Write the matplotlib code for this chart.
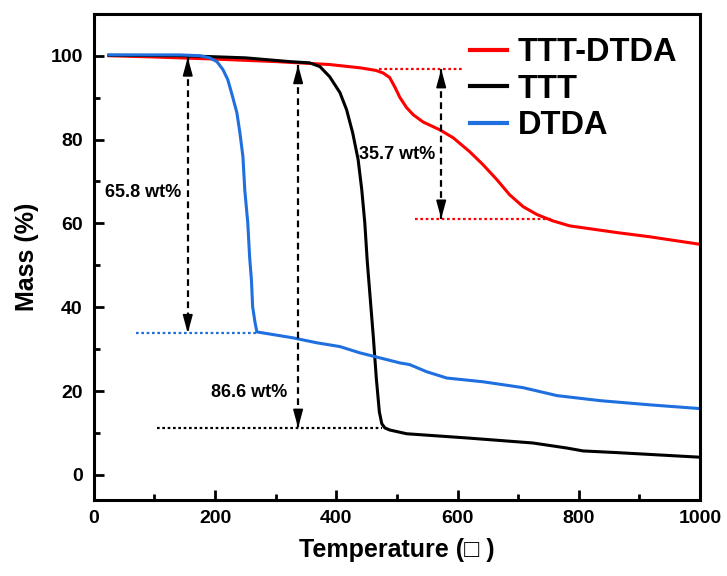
"""
TGA curves of TTT, DTDA and the TTT-DTDA composite, with mass-loss markers.
"""
import matplotlib.pyplot as plt

plt.rcParams["font.family"] = ["Liberation Sans", "DejaVu Sans"]
plt.rcParams["font.weight"] = "bold"
plt.rcParams["axes.labelweight"] = "bold"

# TTT-DTDA
temp_ttt_dtda = [25, 100, 200, 300, 389, 440, 465, 477, 488, 497, 505, 516, 527, 543,
                 571, 593, 620, 642, 665, 686, 708, 731, 757, 785, 863, 917, 1000]
mass_ttt_dtda = [100, 99.7, 99.2, 98.6, 97.9, 97.1, 96.5, 95.9, 94.8, 92.4, 90.0, 87.6, 85.9, 84.2,
                 82.3, 80.4, 77.1, 74.0, 70.4, 66.8, 64.0, 62.1, 60.6, 59.4, 57.8, 56.8, 55.0]

# TTT
temp_ttt = [25, 150, 250, 323, 356, 373, 389, 406, 417, 427, 436, 442, 447, 451,
            456, 461, 466, 471, 475, 480, 488, 516, 615, 724, 780, 807, 863, 1000]
mass_ttt = [100.1, 100, 99.5, 98.6, 98.3, 97.4, 95.0, 91.2, 87.1, 81.6, 75.2, 68.0, 60.1, 51.0,
            42.0, 33.0, 23.0, 15.0, 12.2, 11.2, 10.7, 9.8, 8.8, 7.6, 6.4, 5.7, 5.3, 4.2]

# DTDA
temp_dtda = [25, 142, 175, 191, 203, 213, 221, 229, 236, 241, 246, 249, 254, 257, 260,
             262, 266, 269, 328, 368, 406, 439, 505, 521, 549, 582, 642, 708, 764, 835,
             917, 1000]
mass_dtda = [100.2, 100.2, 100.0, 99.5, 98.6, 96.7, 94.3, 90.2, 86.4, 81.6, 75.9, 68.0, 60.1, 52.0, 46.5,
             40.1, 36.3, 34.1, 32.7, 31.5, 30.6, 29.1, 26.7, 26.3, 24.6, 23.1, 22.2, 20.8, 18.9, 17.7,
             16.7, 15.8]

# mass-loss markers: (temperature, upper mass, lower mass)
loss_dtda = (155, 99.6, 33.8)
loss_ttt = (337, 97.8, 11.2)
loss_ttt_dtda = (573, 96.8, 61.1)

RED = "#ff0000"
BLUE = "#1f6fde"

fig = plt.figure(figsize=(7.27, 5.76), dpi=100)
ax = fig.add_axes([0.129, 0.132, 0.834, 0.844])

ax.plot(temp_ttt_dtda, mass_ttt_dtda, color=RED, lw=2.2, label="TTT-DTDA")
ax.plot(temp_ttt, mass_ttt, color="black", lw=2.2, label="TTT")
ax.plot(temp_dtda, mass_dtda, color=BLUE, lw=2.2, label="DTDA")

dots = (0, (1.2, 1.2))
ax.plot([70, 270], [loss_dtda[2]] * 2, color=BLUE, lw=1.6, ls=dots)
ax.plot([104, 476], [loss_ttt[2]] * 2, color="black", lw=1.6, ls=dots)
ax.plot([470, 608], [loss_ttt_dtda[1]] * 2, color=RED, lw=1.6, ls=dots)
ax.plot([530, 757], [loss_ttt_dtda[2]] * 2, color=RED, lw=1.6, ls=dots)


def mass_loss(x, top, bottom):
    ax.plot([x, x], [top, bottom], color="black", lw=1.6, ls=(0, (3, 2)))
    head = dict(arrowstyle="-|>,head_length=1.1,head_width=0.3", color="black",
                lw=1.2, shrinkA=0, shrinkB=0)
    ax.annotate("", xy=(x, top), xytext=(x, top - 3.5), arrowprops=head)
    ax.annotate("", xy=(x, bottom), xytext=(x, bottom + 3.5), arrowprops=head)


mass_loss(*loss_dtda)
mass_loss(*loss_ttt)
mass_loss(*loss_ttt_dtda)

ax.text(145, 67.3, "65.8 wt%", fontsize=13, ha="right", va="center")
ax.text(257, 19.6, "86.6 wt%", fontsize=13, ha="center", va="center")
ax.text(500, 76.4, "35.7 wt%", fontsize=13, ha="center", va="center")

ax.set_xlim(0, 1000)
ax.set_ylim(-6, 110)
ax.set_xticks(range(0, 1001, 200))
ax.set_xticks(range(100, 1000, 200), minor=True)
ax.set_yticks(range(0, 101, 20))
ax.set_yticks(range(10, 100, 20), minor=True)
ax.tick_params(which="both", direction="in", width=2, labelsize=14,
               top=False, right=False)
ax.tick_params(which="major", length=7)
ax.tick_params(which="minor", length=4)
ax.tick_params(axis="y", pad=8)
ax.tick_params(axis="x", pad=7)
for spine in ax.spines.values():
    spine.set_linewidth(2.2)

ax.set_xlabel("Temperature (\u25a1 )", fontsize=18, labelpad=8)
ax.set_ylabel("Mass (%)", fontsize=18, labelpad=8)

ax.legend(loc="upper right", bbox_to_anchor=(0.962, 0.952), frameon=False,
          fontsize=23.5, handlelength=1.12, handletextpad=0.33,
          labelspacing=0.17, borderpad=0, borderaxespad=0)
for line in ax.get_legend().get_lines():
    line.set_linewidth(3)

fig.savefig("out.png", dpi=100)
